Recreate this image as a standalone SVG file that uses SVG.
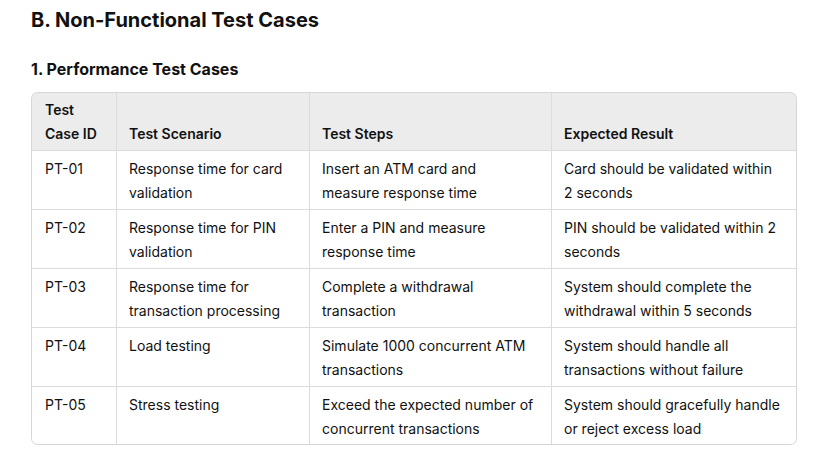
<svg xmlns="http://www.w3.org/2000/svg" width="839" height="474" viewBox="0 0 839 474">
<style>
text{font-family:Inter,"Liberation Sans",sans-serif;fill:#111;font-size:14px}
.h{font-weight:600}
.g{stroke:#dcdcdc;stroke-width:1}
</style>
<rect width="839" height="474" fill="#fff"/>
<text x="31" y="27" style="font-size:20px;font-weight:700">B. Non-Functional Test Cases</text>
<text x="31" y="75" style="font-size:16px;font-weight:700">1. Performance Test Cases</text>
<defs><clipPath id="c"><rect x="31.5" y="92.5" width="765" height="352" rx="6"/></clipPath></defs>
<g id="table">
<rect x="31.5" y="92.5" width="765" height="58" fill="#ececec" clip-path="url(#c)"/>
<g class="g">
<line x1="31" y1="150.5" x2="797" y2="150.5"/>
<line x1="31" y1="209.5" x2="797" y2="209.5"/>
<line x1="31" y1="268.5" x2="797" y2="268.5"/>
<line x1="31" y1="327.5" x2="797" y2="327.5"/>
<line x1="31" y1="386.5" x2="797" y2="386.5"/>
<line x1="116.5" y1="92" x2="116.5" y2="445"/>
<line x1="309.5" y1="92" x2="309.5" y2="445"/>
<line x1="551.5" y1="92" x2="551.5" y2="445"/>
</g>
<rect x="31.5" y="92.5" width="765" height="352" rx="6" fill="none" stroke="#d6d6d6"/>
<text class="h" x="45" y="115">Test</text>
<text class="h" x="45" y="139">Case ID</text>
<text class="h" x="129" y="139">Test Scenario</text>
<text class="h" x="322" y="139">Test Steps</text>
<text class="h" x="564" y="139">Expected Result</text>

<text x="45" y="174">PT-01</text>
<text x="129" y="174">Response time for card</text><text x="129" y="198">validation</text>
<text x="322" y="174">Insert an ATM card and</text><text x="322" y="198">measure response time</text>
<text x="564" y="174">Card should be validated within</text><text x="564" y="198">2 seconds</text>

<text x="45" y="233">PT-02</text>
<text x="129" y="233">Response time for PIN</text><text x="129" y="257">validation</text>
<text x="322" y="233">Enter a PIN and measure</text><text x="322" y="257">response time</text>
<text x="564" y="233">PIN should be validated within 2</text><text x="564" y="257">seconds</text>

<text x="45" y="292">PT-03</text>
<text x="129" y="292">Response time for</text><text x="129" y="316">transaction processing</text>
<text x="322" y="292">Complete a withdrawal</text><text x="322" y="316">transaction</text>
<text x="564" y="292">System should complete the</text><text x="564" y="316">withdrawal within 5 seconds</text>

<text x="45" y="351">PT-04</text>
<text x="129" y="351">Load testing</text>
<text x="322" y="351">Simulate 1000 concurrent ATM</text><text x="322" y="375">transactions</text>
<text x="564" y="351">System should handle all</text><text x="564" y="375">transactions without failure</text>

<text x="45" y="410">PT-05</text>
<text x="129" y="410">Stress testing</text>
<text x="322" y="410">Exceed the expected number of</text><text x="322" y="434">concurrent transactions</text>
<text x="564" y="410">System should gracefully handle</text><text x="564" y="434">or reject excess load</text>
</g>
</svg>
